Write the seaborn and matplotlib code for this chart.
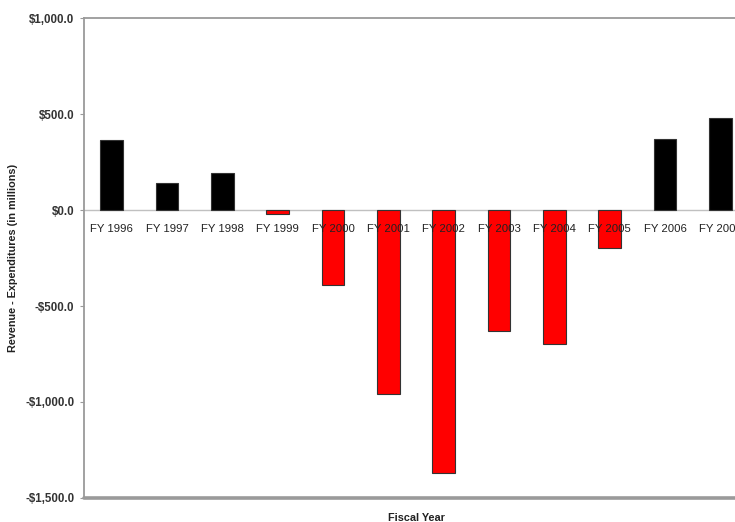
import matplotlib
matplotlib.use("Agg")
import matplotlib.pyplot as plt
from matplotlib.ticker import FuncFormatter, FixedLocator
import seaborn as sns
import pandas as pd

# Fiscal-year balance (revenue minus expenditures), $ millions
fiscal_years = ["FY 1996", "FY 1997", "FY 1998", "FY 1999", "FY 2000", "FY 2001",
                "FY 2002", "FY 2003", "FY 2004", "FY 2005", "FY 2006", "FY 2007"]
balance = [365, 143, 191, -21, -389, -960, -1371, -630, -696, -196, 372, 478]
y_ticks = [-1500, -1000, -500, 0, 500, 1000]

sns.set_theme(style="white")
plt.rcParams["font.family"] = ["Liberation Sans", "DejaVu Sans"]

df = pd.DataFrame({"year": fiscal_years, "balance": balance})
colors = ["#000000" if v >= 0 else "#ff0000" for v in balance]

fig = plt.figure(figsize=(7.35, 5.22), dpi=100)
# plot area runs past the right edge of the canvas
ax = fig.add_axes([84 / 735, 24 / 522, 664 / 735, 480 / 522])

sns.barplot(data=df, x="year", y="balance", hue="year", palette=colors,
            legend=False, width=0.41, edgecolor="#333333", linewidth=0.8,
            saturation=1, ax=ax)

ax.set_xlim(-0.5, len(fiscal_years) - 0.5)
ax.set_ylim(y_ticks[0], y_ticks[-1])
ax.set_yticks(y_ticks)
ax.yaxis.set_major_formatter(FuncFormatter(
    lambda v, _: ("-$" if v < 0 else "$") + f"{abs(v):,.1f}"))

spine_color = "#9a9a9a"
for side in ["left", "top"]:
    ax.spines[side].set_color(spine_color)
    ax.spines[side].set_linewidth(1.3)
ax.spines["right"].set_visible(False)
# category axis sits on the zero line
ax.spines["bottom"].set_position(("data", 0))
ax.spines["bottom"].set_color("#c0c0c0")
ax.spines["bottom"].set_linewidth(1.0)
ax.spines["bottom"].set_zorder(0.5)
ax.axhline(y_ticks[0], color=spine_color, lw=2.6, clip_on=False)

ax.xaxis.set_minor_locator(FixedLocator([i + 0.5 for i in range(len(fiscal_years))]))
ax.tick_params(axis="x", which="major", length=0, pad=10, labelsize=8.2, labelcolor="#222222")
ax.tick_params(axis="x", which="minor", length=3, width=0.8, color="#b5b5b5", direction="out")
ax.tick_params(axis="y", length=3, width=0.8, color=spine_color, direction="out",
               left=True, pad=4, labelsize=8.3, labelcolor="#333333")
for lbl in ax.get_yticklabels():
    lbl.set_fontweight("bold")
# year labels are printed over the bars
ax.xaxis.set_zorder(5)

ax.set_xlabel("Fiscal Year", fontsize=7.8, fontweight="bold", color="#222222")
ax.set_ylabel("Revenue - Expenditures (in millions)", fontsize=7.8,
              fontweight="bold", color="#222222")
ax.xaxis.set_label_coords(0.5, -0.031)
ax.yaxis.set_label_coords(-0.1, 0.5)

fig.savefig("out.png", dpi=100)
